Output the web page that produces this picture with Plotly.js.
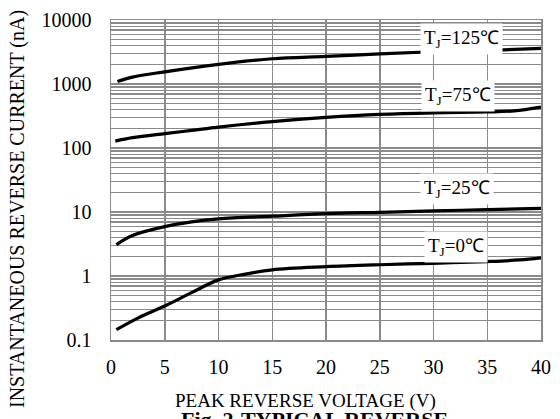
<!DOCTYPE html>
<html>
<head>
<meta charset="utf-8">
<script src="https://cdn.plot.ly/plotly-3.0.1.min.js"></script>
<style>html,body{margin:0;padding:0;background:#fff;}#chart{width:560px;height:419px;}</style>
</head>
<body>
<div id="chart"></div>
<script>
// Data
const v125 = [0.6, 2, 5, 10, 15, 20, 25, 30, 35, 40];
const i125 = [1090, 1280, 1550, 2030, 2480, 2700, 2950, 3200, 3350, 3600];
const v75 = [0.4, 2, 5, 7.5, 10, 15, 20, 25, 30, 35, 37.5, 40];
const i75 = [128, 145, 168, 188, 212, 258, 300, 335, 355, 365, 380, 435];
const v25 = [0.5, 2, 5, 7.5, 10, 15, 20, 25, 30, 35, 40];
const i25 = [3.1, 4.3, 5.9, 7.0, 7.8, 8.6, 9.4, 9.9, 10.4, 10.9, 11.4];
const v0 = [0.5, 2.5, 5, 7.5, 10, 12.5, 15, 20, 25, 30, 35, 38, 40];
const i0 = [0.145, 0.22, 0.34, 0.55, 0.87, 1.07, 1.25, 1.4, 1.5, 1.58, 1.68, 1.78, 1.92];
const yTickVals = [0.1, 1, 10, 100, 1000, 10000];
const yTickText = ['0.1', '1', '10', '100', '1000', '10000'];
const labels = ['T<sub>J</sub>=125℃', 'T<sub>J</sub>=75℃', 'T<sub>J</sub>=25℃', 'T<sub>J</sub>=0℃'];
const labelX = [32.6, 32.3, 32.2, 32.1];
const labelY = [5040, 650, 23, 2.8];

const FONT = 'Liberation Serif';
const lineStyle = {color: '#000', width: 3.2, shape: 'spline', smoothing: 1};
const traces = [
  [v125, i125], [v75, i75], [v25, i25], [v0, i0]
].map(([x, y]) => ({x, y, type: 'scatter', mode: 'lines', line: lineStyle, hoverinfo: 'skip'}));

const annotations = labels.map((t, k) => ({
  x: labelX[k], y: Math.log10(labelY[k]), xref: 'x', yref: 'y', text: t,
  xanchor: 'center', yanchor: 'middle',
  showarrow: false, bgcolor: '#fff', borderpad: 3,
  font: {family: FONT, size: 19, color: '#000'}
}));
annotations.push({
  text: 'PEAK REVERSE VOLTAGE (V)', xref: 'paper', yref: 'paper',
  x: (305 - 111) / 430, y: -(401 - 340) / 320, xanchor: 'center', yanchor: 'middle',
  showarrow: false,
  font: {family: FONT, size: 19, color: '#000'}
});
annotations.push({
  text: '<b>Fig. 2-TYPICAL REVERSE</b>', xref: 'paper', yref: 'paper',
  x: (314 - 111) / 430, y: -(419 - 340) / 320, xanchor: 'center', yanchor: 'middle',
  showarrow: false,
  font: {family: FONT, size: 22, color: '#000'}
});
annotations.push({
  text: 'INSTANTANEOUS REVERSE CURRENT (nA)', xref: 'paper', yref: 'paper',
  x: -(111 - 17) / 430, y: (340 - 209) / 320, xanchor: 'center', yanchor: 'middle',
  showarrow: false, textangle: -90,
  font: {family: FONT, size: 20, color: '#000'}
});

const layout = {
  width: 560, height: 419,
  margin: {l: 111, r: 19, t: 20, b: 79},
  paper_bgcolor: '#fff', plot_bgcolor: '#fff',
  font: {family: FONT, color: '#000'},
  showlegend: false,
  xaxis: {
    range: [0, 40], dtick: 5, tick0: 0,
    showgrid: true, gridcolor: '#8a8a8a', gridwidth: 1.5,
    showline: true, linecolor: '#8a8a8a', linewidth: 1.5, mirror: true,
    zeroline: false, ticks: '', ticklen: 0, ticklabelstandoff: 8,
    tickfont: {family: FONT, size: 20, color: '#000'}
  },
  yaxis: {
    type: 'log', range: [-1, 4],
    tickmode: 'array', tickvals: yTickVals, ticktext: yTickText,
    showgrid: true, gridcolor: '#8a8a8a', gridwidth: 1.5,
    minor: {dtick: 'D1', showgrid: true, gridcolor: '#8a8a8a', gridwidth: 1.3, ticks: ''},
    showline: true, linecolor: '#8a8a8a', linewidth: 1.5, mirror: true,
    zeroline: false, ticks: '', ticklen: 0, ticklabelstandoff: 14,
    tickfont: {family: FONT, size: 20, color: '#000'}
  },
  annotations
};
Plotly.newPlot('chart', traces, layout, {staticPlot: true, displayModeBar: false});
</script>
</body>
</html>
